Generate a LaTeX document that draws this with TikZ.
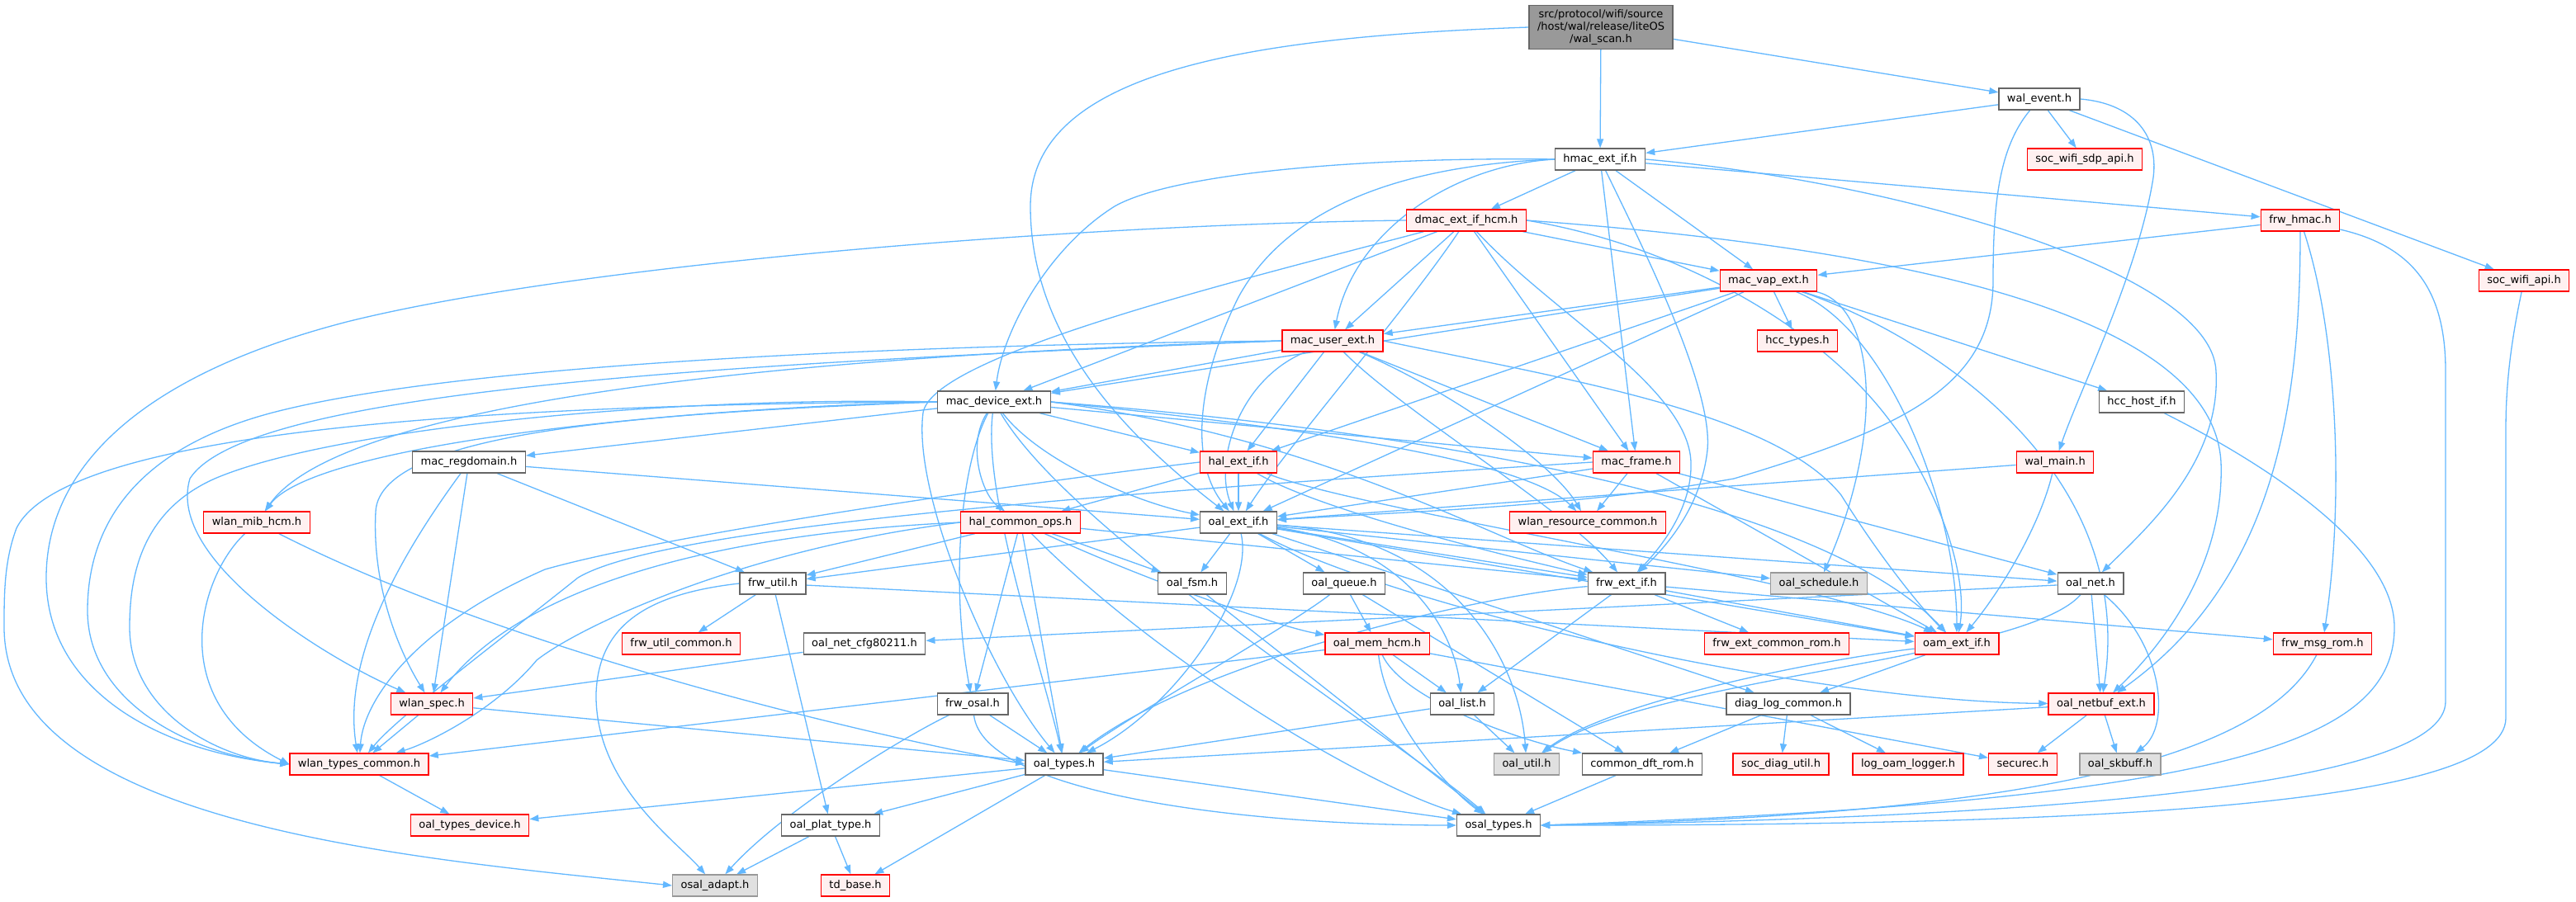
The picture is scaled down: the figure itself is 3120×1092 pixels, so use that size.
\documentclass[tikz,border=0pt]{standalone}
\usepackage{fontspec}
\setmainfont{DejaVu Sans}
\usetikzlibrary{arrows.meta}
\definecolor{edgeblue}{HTML}{63B8FF}
\definecolor{nodegray}{HTML}{666666}
\definecolor{extgray}{HTML}{999999}
\definecolor{extfill}{HTML}{E0E0E0}
\definecolor{truncfill}{HTML}{FFF0F0}
\definecolor{rootfill}{HTML}{999999}
\pgfdeclarelayer{background}
\pgfsetlayers{background,main}
\tikzset{
	% header boxes: plain, truncated (red), external (grey) and the root file
	file/.style={rectangle,draw=nodegray,fill=white,line width=1.3pt,minimum height=26pt,
		inner xsep=10pt,inner ysep=0pt,text height=10pt,text depth=3pt,
		font=\fontsize{13}{15}\selectfont},
	trunc/.style={file,draw=red,fill=truncfill},
	ext/.style={file,draw=extgray,fill=extfill},
	root/.style={rectangle,draw=nodegray,fill=rootfill,line width=1.3pt,align=center,
		inner xsep=10pt,inner ysep=5pt,font=\fontsize{13}{15}\selectfont},
	% include edge
	inc/.style={draw=edgeblue,line width=1.3pt,-{Triangle[length=11pt,width=8pt]}}
}

\begin{document}
\begin{tikzpicture}[x=1pt,y=1pt]
\useasboundingbox (0,0) rectangle (3120,-1092);

% rows of headers
\node[root] (scan) at (1939,-33) {src/protocol/wifi/source\\/host/wal/release/liteOS\\/wal\_scan.h};
\node[file] (wevent) at (2470,-120) {wal\_event.h};
\node[file] (hmac) at (1938,-193) {hmac\_ext\_if.h};
\node[trunc] (sdp) at (2525,-193) {soc\_wifi\_sdp\_api.h};
\node[trunc] (dmac) at (1776,-267) {dmac\_ext\_if\_hcm.h};
\node[trunc] (frwhmac) at (2786,-267) {frw\_hmac.h};
\node[trunc] (vap) at (2142,-340) {mac\_vap\_ext.h};
\node[trunc] (socapi) at (3057,-340) {soc\_wifi\_api.h};
\node[trunc] (user) at (1614,-413) {mac\_user\_ext.h};
\node[trunc] (hcctypes) at (2177,-413) {hcc\_types.h};
\node[file] (dev) at (1204,-487) {mac\_device\_ext.h};
\node[file] (hcchost) at (2594,-487) {hcc\_host\_if.h};
\node[file] (regdom) at (568,-560) {mac\_regdomain.h};
\node[trunc] (hal) at (1500,-560) {hal\_ext\_if.h};
\node[trunc] (frame) at (1982,-560) {mac\_frame.h};
\node[trunc] (walmain) at (2489,-560) {wal\_main.h};
\node[trunc] (mib) at (311,-633) {wlan\_mib\_hcm.h};
\node[trunc] (hcops) at (1236,-633) {hal\_common\_ops.h};
\node[file] (oalext) at (1500,-633) {oal\_ext\_if.h};
\node[trunc] (wres) at (1923,-633) {wlan\_resource\_common.h};
\node[file] (frwutil) at (936,-707) {frw\_util.h};
\node[file] (fsm) at (1444,-707) {oal\_fsm.h};
\node[file] (queue) at (1628,-707) {oal\_queue.h};
\node[file] (frwext) at (1970,-707) {frw\_ext\_if.h};
\node[ext] (sched) at (2203,-707) {oal\_schedule.h};
\node[file] (oalnet) at (2532,-707) {oal\_net.h};
\node[trunc] (utilcom) at (825,-780) {frw\_util\_common.h};
\node[file] (cfg) at (1047,-780) {oal\_net\_cfg80211.h};
\node[trunc] (mem) at (1668,-780) {oal\_mem\_hcm.h};
\node[trunc] (extcom) at (2152,-780) {frw\_ext\_common\_rom.h};
\node[trunc] (oam) at (2370,-780) {oam\_ext\_if.h};
\node[trunc] (msgrom) at (2813,-780) {frw\_msg\_rom.h};
\node[trunc] (spec) at (523,-853) {wlan\_spec.h};
\node[file] (fosal) at (1178,-853) {frw\_osal.h};
\node[file] (list) at (1771,-853) {oal\_list.h};
\node[file] (diag) at (2166,-853) {diag\_log\_common.h};
\node[trunc] (netbuf) at (2545,-853) {oal\_netbuf\_ext.h};
\node[trunc] (wtypes) at (435,-926) {wlan\_types\_common.h};
\node[file] (oaltypes) at (1289,-926) {oal\_types.h};
\node[ext] (oalutil) at (1849,-926) {oal\_util.h};
\node[file] (dft) at (1989,-926) {common\_dft\_rom.h};
\node[trunc] (socdiag) at (2157,-926) {soc\_diag\_util.h};
\node[trunc] (logger) at (2311,-926) {log\_oam\_logger.h};
\node[trunc] (securec) at (2450,-926) {securec.h};
\node[ext] (skbuff) at (2568,-926) {oal\_skbuff.h};
\node[trunc] (tdev) at (569,-1000) {oal\_types\_device.h};
\node[file] (plat) at (1006,-1000) {oal\_plat\_type.h};
\node[file] (osaltypes) at (1815,-1000) {osal\_types.h};
\node[ext] (adapt) at (866,-1073) {osal\_adapt.h};
\node[trunc] (tdbase) at (1036,-1073) {td\_base.h};

\begin{pgfonlayer}{background}
\fill[white] (0,0) rectangle (3120,-1092);
% wal_scan.h
\draw[inc] (scan) -- (hmac);
\draw[inc] (scan) -- (wevent);
\draw[inc] (scan.west) .. controls (1500,-45) and (1248,-90) .. (1248,-250) .. controls (1248,-420) and (1380,-540) .. (oalext);
% wal_event.h
\draw[inc] (wevent) -- (hmac);
\draw[inc] (wevent) -- (sdp);
\draw[inc] (wevent) -- (socapi);
\draw[inc] (wevent.east) .. controls (2580,-125) and (2615,-160) .. (2608,-215) .. controls (2590,-330) and (2520,-470) .. (walmain);
\draw[inc] (wevent) .. controls (2420,-180) and (2414,-250) .. (2414,-340) .. controls (2414,-470) and (2300,-520) .. (2100,-580) .. controls (1900,-615) and (1700,-620) .. (oalext);
\draw[inc] (walmain) -- (oalext);
\draw[inc] (walmain) .. controls (2470,-640) and (2420,-720) .. (oam);
% hmac_ext_if.h
\draw[inc] (hmac) -- (dmac);
\draw[inc] (hmac) -- (vap);
\draw[inc] (hmac) -- (frwhmac);
\draw[inc] (hmac) -- (frame);
\draw[inc] (hmac.west) .. controls (1650,-190) and (1420,-210) .. (1350,-250) .. controls (1270,-300) and (1215,-400) .. (dev);
\draw[inc] (hmac.west) .. controls (1760,-200) and (1640,-280) .. (user);
\draw[inc] (hmac.west) .. controls (1700,-200) and (1560,-250) .. (1500,-360) .. controls (1450,-460) and (1440,-560) .. (oalext);
\draw[inc] (hmac) .. controls (1990,-300) and (2075,-470) .. (2068,-545) .. controls (2060,-620) and (2010,-670) .. (frwext);
\draw[inc] (hmac.east) .. controls (2300,-220) and (2680,-330) .. (2684,-450) .. controls (2690,-560) and (2600,-640) .. (oalnet);
% dmac_ext_if_hcm.h
\draw[inc] (dmac.west) .. controls (1300,-272) and (700,-320) .. (420,-390) .. controls (150,-460) and (56,-580) .. (56,-700) .. controls (56,-840) and (200,-912) .. (wtypes.west);
\draw[inc] (dmac) -- (vap);
\draw[inc] (dmac) -- (user);
\draw[inc] (dmac) -- (dev);
\draw[inc] (dmac) .. controls (1500,-340) and (1130,-430) .. (1118,-500) .. controls (1105,-600) and (1200,-820) .. (oaltypes);
\draw[inc] (dmac) .. controls (1700,-380) and (1560,-540) .. (oalext);
\draw[inc] (dmac) -- (frame);
\draw[inc] (dmac) .. controls (1880,-380) and (2045,-470) .. (2048,-560) .. controls (2050,-620) and (2005,-670) .. (frwext);
\draw[inc] (dmac.east) .. controls (2050,-300) and (2250,-420) .. (2320,-560) .. controls (2370,-650) and (2380,-720) .. (oam);
\draw[inc] (dmac.east) .. controls (2300,-300) and (2680,-380) .. (2690,-560) .. controls (2695,-700) and (2600,-800) .. (netbuf);
% mac_vap_ext.h
\draw[inc] (frwhmac) -- (vap);
\draw[inc] (vap) -- (hcctypes);
\draw[inc] (vap) -- (hcchost);
\draw[inc] (vap) -- (user);
\draw[inc] (vap) -- (dev);
\draw[inc] (vap) -- (hal);
\draw[inc] (vap) -- (oalext);
\draw[inc] (vap) .. controls (2270,-370) and (2285,-520) .. (sched);
\draw[inc] (vap) .. controls (2290,-400) and (2370,-620) .. (oam);
\draw[inc] (vap) .. controls (2320,-400) and (2590,-560) .. (netbuf);
% frw_hmac.h, soc_wifi_api.h, hcc_host_if.h, frw_msg_rom.h
\draw[inc] (frwhmac) .. controls (2786,-480) and (2760,-700) .. (netbuf);
\draw[inc] (frwhmac) .. controls (2830,-400) and (2840,-600) .. (msgrom);
\draw[inc] (frwhmac) .. controls (2930,-300) and (2962,-360) .. (2962,-450) -- (2962,-850) .. controls (2962,-950) and (2500,-990) .. (osaltypes.east);
\draw[inc] (socapi) .. controls (3040,-420) and (3035,-470) .. (3035,-520) -- (3035,-870) .. controls (3035,-980) and (2500,-1000) .. (osaltypes.east);
\draw[inc] (hcchost) .. controls (2700,-540) and (2900,-650) .. (2900,-760) .. controls (2900,-900) and (2700,-970) .. (osaltypes.east);
\draw[inc] (msgrom) .. controls (2760,-880) and (2600,-985) .. (osaltypes.east);
% mac_user_ext.h
\draw[inc] (user) -- (dev);
\draw[inc] (user.west) .. controls (1100,-418) and (560,-440) .. (330,-500) .. controls (160,-545) and (106,-640) .. (106,-740) .. controls (106,-850) and (230,-915) .. (wtypes.west);
\draw[inc] (user.west) .. controls (900,-440) and (300,-470) .. (230,-580) .. controls (200,-680) and (400,-800) .. (spec);
\draw[inc] (user.west) .. controls (1000,-430) and (420,-480) .. (mib);
\draw[inc] (user) -- (hal);
\draw[inc] (user) .. controls (1500,-460) and (1470,-560) .. (oalext);
\draw[inc] (user) -- (frame);
\draw[inc] (user) .. controls (1750,-470) and (1880,-560) .. (wres);
\draw[inc] (user) .. controls (1700,-500) and (1900,-620) .. (frwext);
\draw[inc] (user.east) .. controls (1900,-460) and (2150,-500) .. (2230,-600) .. controls (2280,-680) and (2330,-740) .. (oam);
% mac_device_ext.h
\draw[inc] (dev.west) .. controls (800,-480) and (400,-520) .. (260,-580) .. controls (170,-620) and (157,-700) .. (157,-760) .. controls (157,-860) and (260,-918) .. (wtypes.west);
\draw[inc] (dev.west) .. controls (800,-500) and (460,-520) .. (455,-620) .. controls (450,-720) and (490,-800) .. (spec);
\draw[inc] (dev.west) .. controls (800,-495) and (380,-540) .. (mib);
\draw[inc] (dev.west) .. controls (600,-490) and (80,-520) .. (20,-640) .. controls (5,-680) and (5,-720) .. (5,-760) .. controls (5,-1000) and (500,-1040) .. (adapt.west);
\draw[inc] (dev) -- (regdom);
\draw[inc] (dev) -- (hal);
\draw[inc] (dev) .. controls (1170,-540) and (1190,-600) .. (hcops);
\draw[inc] (dev) .. controls (1260,-560) and (1380,-610) .. (oalext);
\draw[inc] (dev) -- (frame);
\draw[inc] (dev.east) .. controls (1600,-520) and (1850,-560) .. (wres);
\draw[inc] (dev.east) .. controls (1600,-530) and (1800,-650) .. (frwext);
\draw[inc] (dev) .. controls (1165,-560) and (1150,-700) .. (fosal);
\draw[inc] (dev) .. controls (1190,-600) and (1260,-800) .. (oaltypes);
\draw[inc] (dev) .. controls (1300,-650) and (1700,-900) .. (osaltypes);
\draw[inc] (dev.east) .. controls (1700,-520) and (2200,-600) .. (oam);
% hal_ext_if.h, hal_common_ops.h
\draw[inc] (hal) -- (oalext);
\draw[inc] (hal) -- (hcops);
\draw[inc] (hal.west) .. controls (1200,-590) and (800,-650) .. (660,-690) .. controls (500,-760) and (440,-850) .. (wtypes);
\draw[inc] (hal) .. controls (1600,-620) and (1850,-680) .. (frwext);
\draw[inc] (hal) .. controls (1650,-620) and (2200,-700) .. (oam);
\draw[inc] (hcops) -- (fsm);
\draw[inc] (hcops) -- (frwutil);
\draw[inc] (hcops.west) .. controls (900,-645) and (640,-700) .. (spec);
\draw[inc] (hcops.west) .. controls (900,-665) and (700,-760) .. (650,-800) .. controls (600,-860) and (520,-900) .. (wtypes);
\draw[inc] (hcops) -- (fosal);
\draw[inc] (hcops) -- (oaltypes);
\draw[inc] (hcops) .. controls (1380,-700) and (1550,-760) .. (mem);
\draw[inc] (hcops) -- (frwext);
\draw[inc] (hcops) .. controls (1400,-800) and (1650,-950) .. (osaltypes);
% mac_regdomain.h, wlan_mib_hcm.h, mac_frame.h
\draw[inc] (regdom) -- (spec);
\draw[inc] (regdom) .. controls (480,-680) and (415,-800) .. (wtypes);
\draw[inc] (regdom) -- (frwutil);
\draw[inc] (regdom) -- (oalext);
\draw[inc] (mib) .. controls (240,-700) and (200,-850) .. (wtypes.west);
\draw[inc] (mib) .. controls (600,-780) and (1000,-880) .. (oaltypes.west);
\draw[inc] (frame) -- (wres);
\draw[inc] (frame) -- (oalext);
\draw[inc] (frame.west) .. controls (1300,-600) and (800,-640) .. (700,-700) .. controls (600,-780) and (480,-870) .. (wtypes);
\draw[inc] (frame) -- (oalnet);
\draw[inc] (frame) -- (oam);
% oal_ext_if.h
\draw[inc] (oalext) -- (fsm);
\draw[inc] (oalext) -- (queue);
\draw[inc] (oalext) .. controls (1520,-720) and (1420,-860) .. (oaltypes);
\draw[inc] (oalext) -- (frwext);
\draw[inc] (oalext) .. controls (1700,-660) and (1760,-760) .. (list);
\draw[inc] (oalext) .. controls (1760,-650) and (1840,-800) .. (oalutil);
\draw[inc] (oalext) -- (sched);
\draw[inc] (oalext) -- (oalnet);
\draw[inc] (oalext) -- (oam);
\draw[inc] (oalext) .. controls (1700,-740) and (2200,-850) .. (netbuf);
\draw[inc] (oalext) -- (frwutil);
\draw[inc] (oalext) -- (diag);
% frw_ext_if.h
\draw[inc] (frwext) -- (list);
\draw[inc] (frwext) -- (extcom);
\draw[inc] (frwext) -- (oam);
\draw[inc] (frwext) -- (msgrom);
\draw[inc] (frwext) .. controls (1800,-720) and (1450,-800) .. (oaltypes);
% oal_fsm.h, oal_queue.h, oal_mem_hcm.h, oal_list.h
\draw[inc] (fsm) -- (osaltypes);
\draw[inc] (queue) -- (mem);
\draw[inc] (queue) .. controls (1560,-760) and (1380,-860) .. (oaltypes);
\draw[inc] (queue) -- (dft);
\draw[inc] (mem) -- (list);
\draw[inc] (mem) .. controls (1680,-880) and (1760,-960) .. (osaltypes);
\draw[inc] (mem) .. controls (1700,-850) and (1850,-900) .. (dft);
\draw[inc] (mem) -- (wtypes);
\draw[inc] (mem) -- (securec);
\draw[inc] (list) -- (oaltypes);
\draw[inc] (list) -- (oalutil);
% oam_ext_if.h, diag_log_common.h, oal_netbuf_ext.h, oal_net.h
\draw[inc] (oam) -- (diag);
\draw[inc] (oam) .. controls (2200,-800) and (1950,-850) .. (oalutil);
\draw[inc] (diag) -- (dft);
\draw[inc] (diag) -- (socdiag);
\draw[inc] (diag) -- (logger);
\draw[inc] (netbuf) -- (securec);
\draw[inc] (netbuf) -- (skbuff);
\draw[inc] (netbuf) -- (oaltypes);
\draw[inc] (oalnet) -- (netbuf);
\draw[inc] (oalnet) .. controls (2620,-780) and (2630,-880) .. (skbuff);
\draw[inc] (oalnet) -- (cfg);
\draw[inc] (oalnet) .. controls (2450,-800) and (2000,-820) .. (oalutil);
\draw[inc] (dft) -- (osaltypes);
% frw_util.h, wlan_spec.h, frw_osal.h
\draw[inc] (frwutil) -- (utilcom);
\draw[inc] (frwutil) -- (plat);
\draw[inc] (frwutil.west) .. controls (780,-720) and (725,-760) .. (722,-840) .. controls (720,-950) and (820,-1020) .. (adapt);
\draw[inc] (frwutil) -- (oam);
\draw[inc] (cfg) -- (spec);
\draw[inc] (spec) -- (wtypes);
\draw[inc] (spec) -- (oaltypes);
\draw[inc] (wtypes) -- (tdev);
\draw[inc] (fosal) -- (oaltypes);
\draw[inc] (fosal) .. controls (1190,-960) and (1500,-1000) .. (osaltypes.west);
\draw[inc] (fosal) .. controls (1100,-890) and (950,-980) .. (adapt);
% oal_types.h, oal_plat_type.h
\draw[inc] (oaltypes) -- (tdev);
\draw[inc] (oaltypes) -- (plat);
\draw[inc] (oaltypes) -- (tdbase);
\draw[inc] (oaltypes) -- (osaltypes);
\draw[inc] (plat) -- (adapt);
\draw[inc] (plat) -- (tdbase);
\end{pgfonlayer}

\end{tikzpicture}
\end{document}
